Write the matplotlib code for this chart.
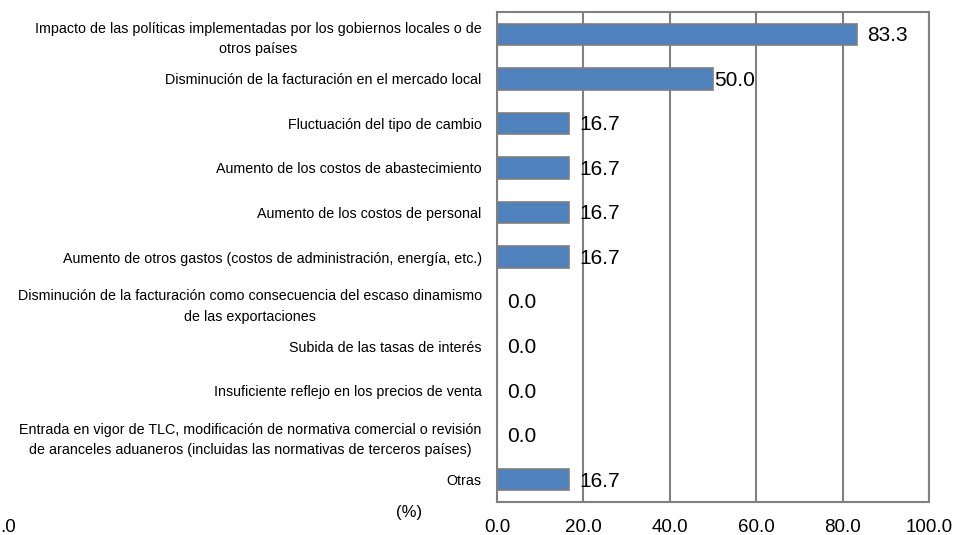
import matplotlib
matplotlib.use("Agg")
import matplotlib.pyplot as plt

categories = [
    "Impacto de las políticas implementadas por los gobiernos locales o de\notros países",
    "Disminución de la facturación en el mercado local",
    "Fluctuación del tipo de cambio",
    "Aumento de los costos de abastecimiento",
    "Aumento de los costos de personal",
    "Aumento de otros gastos (costos de administración, energía, etc.)",
    "Disminución de la facturación como consecuencia del escaso dinamismo\nde las exportaciones",
    "Subida de las tasas de interés",
    "Insuficiente reflejo en los precios de venta",
    "Entrada en vigor de TLC, modificación de normativa comercial o revisión\nde aranceles aduaneros (incluidas las normativas de terceros países)",
    "Otras",
]
values = [83.3, 50.0, 16.7, 16.7, 16.7, 16.7, 0.0, 0.0, 0.0, 0.0, 16.7]
xticks = [0, 20, 40, 60, 80, 100]

font = ["Liberation Sans", "DejaVu Sans"]

fig = plt.figure(figsize=(9.57, 5.35), dpi=100)
ax = fig.add_axes([497 / 957, 33 / 535, 432 / 957, 490 / 535])

pos = list(range(len(categories)))
ax.barh(pos, values, height=0.48, color="#4F81BD", edgecolor="#7F7F7F",
        linewidth=1.2, zorder=3)
ax.set_ylim(len(categories) - 0.5, -0.5)
ax.set_xlim(0, 100)

ax.set_xticks(xticks)
ax.set_xticklabels([f"{t:.1f}" for t in xticks], fontfamily=font, fontsize=13.5)
ax.tick_params(axis="x", length=0, pad=12.5)
ax.set_yticks(pos)
ax.set_yticklabels(categories, fontfamily=font, fontsize=10.3,
                   multialignment="center", linespacing=1.6)
ax.tick_params(axis="y", length=0, pad=11)

ax.grid(axis="x", color="#808080", linewidth=1.5, zorder=0)
for s in ax.spines.values():
    s.set_color("#808080")
    s.set_linewidth(1.5)

for p, v in zip(pos, values):
    pad = 1 if v == 50.0 else 10
    ax.annotate(f"{v:.1f}", (v, p), xytext=(pad * 0.72, -1),
                textcoords="offset points", va="center", ha="left",
                fontfamily=font, fontsize=15, zorder=4)

fig.text(409 / 957, 1 - 513 / 535, "(%)", ha="center", va="center",
         fontfamily=font, fontsize=12)
fig.text(16 / 957, 1 - 528 / 535, ".0", ha="right", va="center",
         fontfamily=font, fontsize=13.5)

fig.savefig("out.png", dpi=100)
